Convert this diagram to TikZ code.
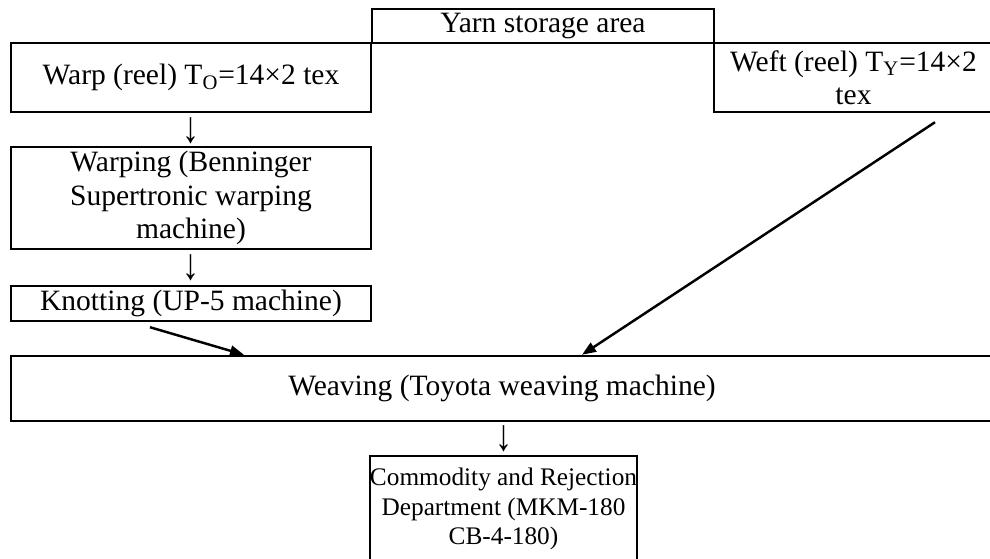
\documentclass[tikz,border=0pt]{standalone}
\usepackage{fontspec}
\setmainfont{Liberation Serif}
\usetikzlibrary{arrows.meta, calc}

\begin{document}
\begin{tikzpicture}[
        x=0.02cm, y=-0.02cm,
        font=\fontsize{16.8}{19}\selectfont,
        stage/.style={rectangle, draw=black, line width=1.4pt, inner sep=0pt, align=center},
        down/.style={inner sep=0pt, yscale=1.5, xscale=1.15},
        feed/.style={-{Triangle[length=0.28cm, width=0.21cm]}, line width=1.4pt, draw=black}
    ]
        \useasboundingbox (0, 0) rectangle (990, 558);
        \node[stage, minimum width=6.84cm, minimum height=0.68cm] (store) at (543, 26) {Yarn storage area};
        \node[stage, minimum width=7.2cm, minimum height=1.38cm] (warp) at (191, 77.5) {Warp (reel) T\textsubscript{O}=14×2 tex};
        \node[stage, minimum width=5.58cm, minimum height=1.38cm] (weft) at (853.5, 77.5) {Weft (reel) T\textsubscript{Y}=14×2\\tex};
        \node[stage, minimum width=7.2cm, minimum height=2.04cm] (warping) at (191, 198) {Warping (Benninger\\Supertronic warping\\machine)};
        \node[stage, minimum width=7.2cm, minimum height=0.7cm] (knot) at (191, 303.5) {Knotting (UP-5 machine)};
        \node[stage, minimum width=19.64cm, minimum height=1.3cm] (weave) at (502, 388.5) {Weaving (Toyota weaving machine)};
        \node[stage, minimum width=5.3cm, minimum height=2.12cm, font=\fontsize{14.4}{16.6}\selectfont] (dept) at (503.5, 509) {Commodity and Rejection\\Department (MKM-180\\CB-4-180)};
        \node[down] (d1) at (191, 131) {↓};
        \node[down] (d2) at (191, 268) {↓};
        \node[down] (d3) at (503.5, 439) {↓};
        \draw[feed] ([shift={(-41, 5)}]knot.south) -- ([shift={(-258, 0)}]weave.north);
        \draw[feed] ([shift={(81.5, 9)}]weft.south) -- ([shift={(80, 0)}]weave.north);
    \end{tikzpicture}
\end{document}
